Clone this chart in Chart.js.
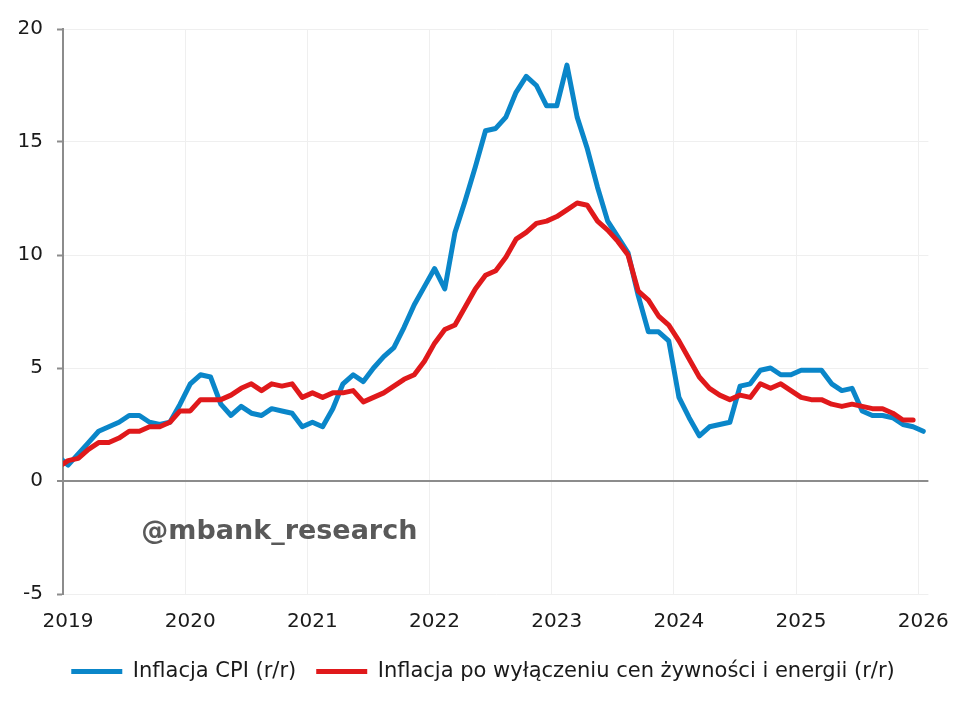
<!DOCTYPE html>
<html lang="pl">
<head>
<meta charset="utf-8">
<title>Inflacja CPI i bazowa</title>
<script src="https://cdn.jsdelivr.net/npm/chart.js@4.4.1/dist/chart.umd.min.js"></script>
<style>
    html, body { margin: 0; padding: 0; background: #fff; }
    #wrap { width: 960px; height: 707px; position: relative; }
</style>
</head>
<body>
<div id="wrap"><canvas id="grafico-inflacja"></canvas></div>
<script>
// Tick labels, one per January
const years = ['2019', '2020', '2021', '2022', '2023', '2024', '2025', '2026'];

// Inflacja CPI r/r, monthly, Dec 2018 .. Jan 2026
const cpi = [1.1,
    0.7, 1.2, 1.7, 2.2, 2.4, 2.6, 2.9, 2.9, 2.6, 2.5, 2.6, 3.4,
    4.3, 4.7, 4.6, 3.4, 2.9, 3.3, 3.0, 2.9, 3.2, 3.1, 3.0, 2.4,
    2.6, 2.4, 3.2, 4.3, 4.7, 4.4, 5.0, 5.5, 5.9, 6.8, 7.8, 8.6,
    9.4, 8.5, 11.0, 12.4, 13.9, 15.5, 15.6, 16.1, 17.2, 17.9, 17.5, 16.6,
    16.6, 18.4, 16.1, 14.7, 13.0, 11.5, 10.8, 10.1, 8.2, 6.6, 6.6, 6.2,
    3.7, 2.8, 2.0, 2.4, 2.5, 2.6, 4.2, 4.3, 4.9, 5.0, 4.7, 4.7,
    4.9, 4.9, 4.9, 4.3, 4.0, 4.1, 3.1, 2.9, 2.9, 2.8, 2.5, 2.4,
    2.2];

// Inflacja bazowa (bez zywnosci i energii) r/r, Dec 2018 .. Dec 2025
const core = [0.6,
    0.9, 1.0, 1.4, 1.7, 1.7, 1.9, 2.2, 2.2, 2.4, 2.4, 2.6, 3.1,
    3.1, 3.6, 3.6, 3.6, 3.8, 4.1, 4.3, 4.0, 4.3, 4.2, 4.3, 3.7,
    3.9, 3.7, 3.9, 3.9, 4.0, 3.5, 3.7, 3.9, 4.2, 4.5, 4.7, 5.3,
    6.1, 6.7, 6.9, 7.7, 8.5, 9.1, 9.3, 9.9, 10.7, 11.0, 11.4, 11.5,
    11.7, 12.0, 12.3, 12.2, 11.5, 11.1, 10.6, 10.0, 8.4, 8.0, 7.3, 6.9,
    6.2, 5.4, 4.6, 4.1, 3.8, 3.6, 3.8, 3.7, 4.3, 4.1, 4.3, 4.0,
    3.7, 3.6, 3.6, 3.4, 3.3, 3.4, 3.3, 3.2, 3.2, 3.0, 2.7, 2.7];

const seriesNames = ['Inflacja CPI (r/r)', 'Inflacja po wyłączeniu cen żywności i energii (r/r)'];
const watermark = '@mbank_research';

graficoInflacja();

function toPoints(values) {
    // x = month index, 0 = Jan 2019 (first value is Dec 2018)
    return values.map(function(v, i) { return {x: i - 1, y: v}; });
}

function graficoInflacja() {
    var ctx = document.getElementById('grafico-inflacja');
    var axisGray = '#8c8c8c';
    var gridGray = '#efefef';

    Chart.defaults.font.family = '"DejaVu Sans", Verdana, sans-serif';
    Chart.defaults.font.size = 20;
    Chart.defaults.color = '#1a1a1a';

    // watermark text in the lower left part of the plot
    const watermarkPlugin = {
        id: 'watermark',
        afterLayout: function(chart) {
            // centre the legend a bit to the right, like the original
            if (chart.legend) { chart.legend.left = 35; }
        },
        beforeDatasetsDraw: function(chart) {
            var c = chart.ctx;
            c.save();
            c.font = 'bold 27px "DejaVu Sans"';
            c.fillStyle = '#595959';
            c.textAlign = 'center';
            c.textBaseline = 'middle';
            c.fillText(watermark, chart.scales.x.getPixelForValue(20.75), chart.scales.y.getPixelForValue(-2.25));
            c.restore();
        }
    };

    // Chart data
    const data = {
        datasets: [{
            label: seriesNames[0],
            data: toPoints(cpi),
            borderColor: '#0a86c9',
            backgroundColor: '#0a86c9',
            borderWidth: 5,
            order: 2
        }, {
            label: seriesNames[1],
            data: toPoints(core),
            borderColor: '#e0191b',
            backgroundColor: '#e0191b',
            borderWidth: 5,
            order: 1
        }]
    };

    // Chart config
    const config = {
        type: 'line',
        data: data,
        plugins: [watermarkPlugin],
        options: {
            responsive: true,
            maintainAspectRatio: false,
            animation: false,
            layout: {
                padding: {top: 29, right: 29, left: 0, bottom: 15}
            },
            elements: {
                point: {radius: 0},
                line: {tension: 0, borderJoinStyle: 'round', borderCapStyle: 'round'}
            },
            datasets: {
                line: {clip: 0}
            },
            scales: {
                x: {
                    type: 'linear',
                    min: -0.5,
                    max: 84.5,
                    afterBuildTicks: function(scale) {
                        scale.ticks = years.map(function(y, k) { return {value: -0.5 + 12 * k}; });
                    },
                    afterFit: function(scale) { scale.height = scale.height - 9; },
                    ticks: {
                        autoSkip: false,
                        maxRotation: 0,
                        padding: 16,
                        labelOffset: 5,
                        callback: function(value, index) { return years[index]; }
                    },
                    grid: {color: gridGray, drawTicks: false},
                    border: {display: false}
                },
                y: {
                    min: -5,
                    max: 20,
                    afterFit: function(scale) { scale.width = 63; },
                    ticks: {stepSize: 5, padding: 14},
                    grid: {
                        color: function(c) { return c.tick && c.tick.value === 0 ? axisGray : gridGray; },
                        lineWidth: function(c) { return c.tick && c.tick.value === 0 ? 2 : 1; },
                        tickColor: axisGray,
                        tickLength: 6,
                        tickWidth: 2
                    },
                    border: {color: axisGray, width: 2}
                }
            },
            plugins: {
                legend: {
                    position: 'bottom',
                    labels: {
                        usePointStyle: true,
                        pointStyle: 'line',
                        pointStyleWidth: 51,
                        padding: 20,
                        font: {size: 21},
                        sort: function(a, b) { return a.datasetIndex - b.datasetIndex; }
                    }
                },
                tooltip: {enabled: false}
            }
        }
    };

    var myChart = new Chart(ctx, config);
}
</script>
</body>
</html>
